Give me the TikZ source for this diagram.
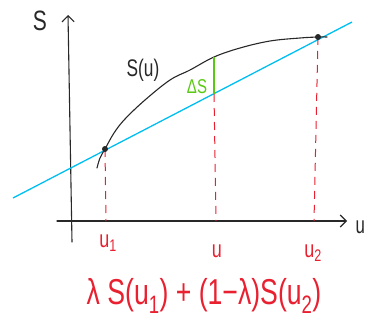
\documentclass[tikz,border=0pt]{standalone}
\usepackage{fontspec}
\setmainfont{Liberation Sans}
\usetikzlibrary{arrows.meta}
\definecolor{penred}{RGB}{232,32,48}
\definecolor{penblue}{RGB}{0,190,240}
\definecolor{pengreen}{RGB}{90,200,20}
\definecolor{penblack}{RGB}{40,40,40}
\tikzset{
  axisline/.style={draw=penblack, line width=1.1pt, line cap=round, -{Straight Barb[length=6pt,width=12pt,line width=1.1pt]}},
  guide/.style={draw=penred, line width=1pt, dash pattern=on 8pt off 6pt},
  hand/.style={inner sep=0pt, outer sep=0pt},
  dot/.style={circle, fill=penblack, inner sep=0pt, minimum size=6pt},
}
\begin{document}
\begin{tikzpicture}[x=1pt,y=-1pt]
\useasboundingbox (0,0) rectangle (366,324);
% axes
\coordinate (y0) at (72,242);
\coordinate (y1) at (68,15);
\coordinate (x0) at (57,221);
\coordinate (x1) at (347,221);
\draw[axisline] (y0) -- (y1);
\draw[axisline] (x0) -- (x1);
\node[hand, text=penblack] (Slab) at (40,21) {\scalebox{0.75}[1]{\fontsize{28}{30}\selectfont S}};
\node[hand, text=penblack, anchor=east] (ulab) at (365,227) {\scalebox{0.7}[1]{\fontsize{24}{26}\selectfont u}};
% chord
\coordinate (b0) at (13,198);
\coordinate (b1) at (352,22);
\draw[penblue, line width=1.3pt] (b0) -- (b1);
% points
\coordinate (p1) at (105,149);
\coordinate (p2) at (318,37);
\coordinate (pm) at (214,57);
\coordinate (pc) at (214,94);
% red guides
\coordinate (g1) at (106,221);
\coordinate (gm) at (216,221);
\coordinate (g2) at (314,221);
\draw[guide] (p1) -- (g1);
\draw[guide] (pc) -- (gm);
\draw[guide] (p2) -- (g2);
% curve
\draw[penblack, line width=1.1pt, line cap=round] plot[smooth, tension=0.6] coordinates
 {(97,168) (100,158) (105,149) (114,133) (125,119) (145,100) (170,80) (190,70) (214,57) (240,48) (270,41) (300,38) (318,37) (327,37)};
\node[dot] (d1) at (p1) {};
\node[dot] (d2) at (p2) {};
% delta S
\draw[pengreen, line width=1.4pt] (pm) -- (pc);
\node[hand, text=pengreen] (dS) at (197,87) {\scalebox{0.75}[1]{\fontsize{20}{22}\selectfont ΔS}};
\node[hand, text=penblack] (Su) at (143,70) {\scalebox{0.72}[1]{\fontsize{24}{26}\selectfont S(u)}};
% labels
\node[hand, text=penred] (u1) at (108,243) {\scalebox{0.75}[1]{\fontsize{24}{26}\selectfont u\textsubscript{1}}};
\node[hand, text=penred] (um) at (217,251) {\scalebox{0.75}[1]{\fontsize{24}{26}\selectfont u}};
\node[hand, text=penred] (u2) at (313,253) {\scalebox{0.75}[1]{\fontsize{24}{26}\selectfont u\textsubscript{2}}};
\node[hand, text=penred] (form) at (204,296) {\scalebox{0.74}[1]{\fontsize{36}{38}\selectfont λ S(u\textsubscript{1}) + (1−λ)S(u\textsubscript{2})}};
\end{tikzpicture}
\end{document}
